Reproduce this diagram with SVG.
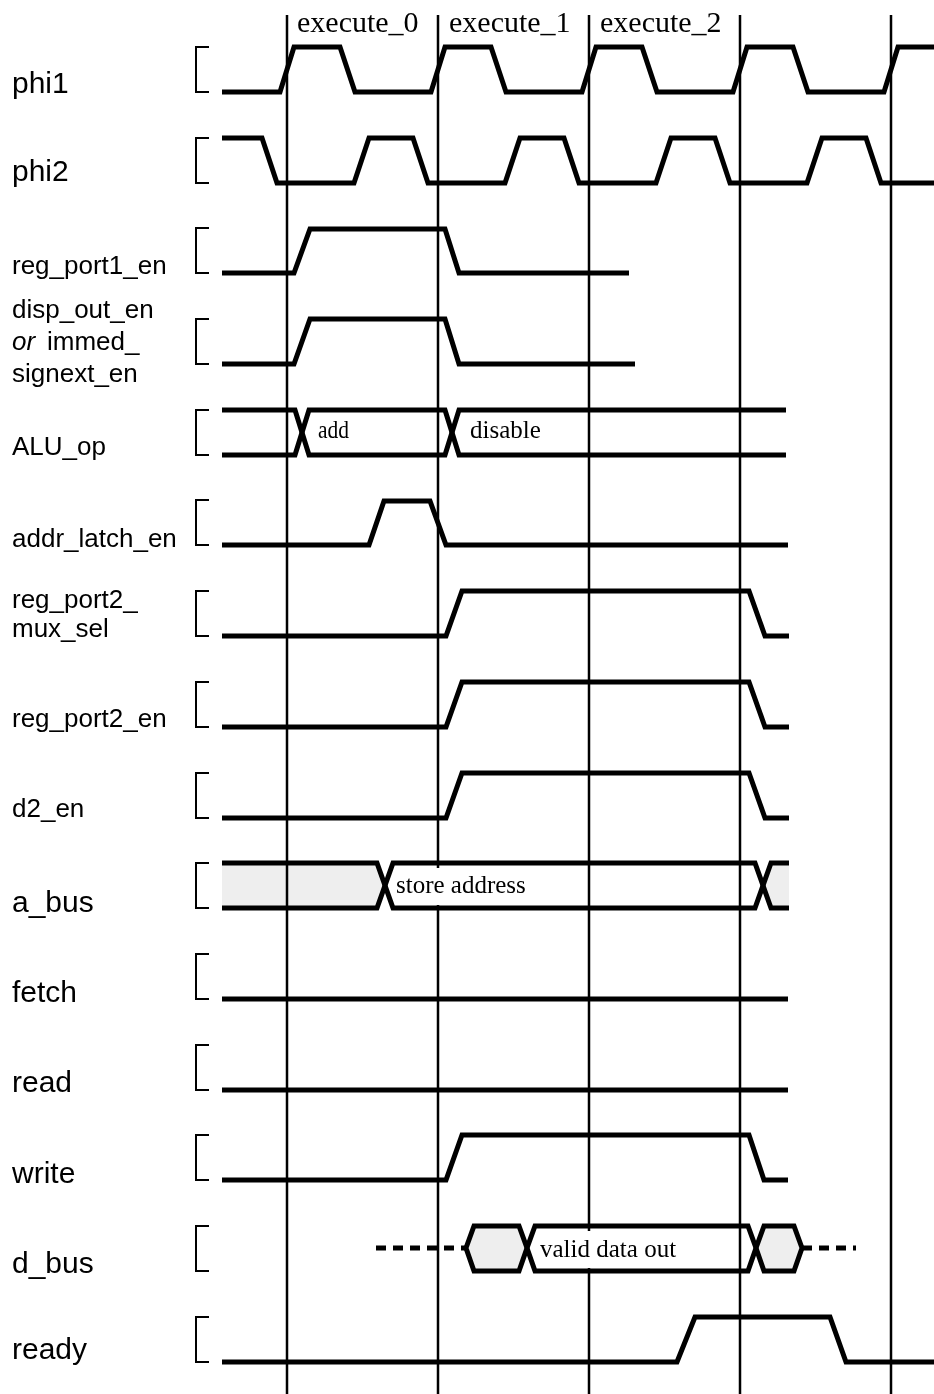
<svg xmlns="http://www.w3.org/2000/svg" width="934" height="1394" viewBox="0 0 934 1394">
<style>
.wave{fill:none;stroke:#000;stroke-width:5;stroke-linejoin:miter}
.brk{fill:none;stroke:#000;stroke-width:2}
.grid{stroke:#000;stroke-width:2.5}
.lbl{font-family:"Liberation Sans",Arial,sans-serif;font-size:26px;fill:#000}
.big{font-size:30px}
.ser{font-family:"Liberation Serif","Times New Roman",serif;font-size:25px;fill:#000}
.exe{font-size:30px}
.gray{fill:#eeeeee;stroke:none;mix-blend-mode:multiply}
.box{fill:none;stroke:#000;stroke-width:5}
.gbox{fill:#eeeeee;stroke:#000;stroke-width:5;mix-blend-mode:multiply}
.dots{fill:none;stroke:#000;stroke-width:5;stroke-dasharray:10 7}
.tbg{fill:#fff;stroke:none}
</style>
<rect width="934" height="1394" fill="#fff"/>

<g id="connectors">
<line class="grid" x1="287" y1="15" x2="287" y2="1394"/>
<line class="grid" x1="438" y1="15" x2="438" y2="1394"/>
<line class="grid" x1="589" y1="15" x2="589" y2="1394"/>
<line class="grid" x1="740" y1="15" x2="740" y2="1394"/>
<line class="grid" x1="891" y1="15" x2="891" y2="1394"/>
</g>

<g id="phase-labels">
<text class="ser exe" x="297" y="32">execute_0</text>
<text class="ser exe" x="449" y="32">execute_1</text>
<text class="ser exe" x="600" y="32">execute_2</text>
</g>

<g id="phi1">
<text class="lbl big" x="12" y="93">phi1</text>
<path class="brk" d="M209,47 H196 V92 H209"/>
<path class="wave" d="M222,92 H280 L294,47 H340 L355,92 H431 L445,47 H491 L506,92 H582 L596,47 H642 L657,92 H733 L747,47 H793 L808,92 H884 L898,47 H934"/>
</g>

<g id="phi2">
<text class="lbl big" x="12" y="181">phi2</text>
<path class="brk" d="M209,138 H196 V183 H209"/>
<path class="wave" d="M222,138 H262 L277,183 H354 L369,138 H413 L428,183 H505 L520,138 H564 L579,183 H656 L671,138 H715 L730,183 H807 L822,138 H866 L881,183 H934"/>
</g>

<g id="reg_port1_en">
<text class="lbl" x="12" y="274">reg_port1_en</text>
<path class="brk" d="M209,228 H196 V273 H209"/>
<path class="wave" d="M222,273 H294 L310,229 H445 L459,273 H629"/>
</g>

<g id="disp_out_en">
<text class="lbl" x="12" y="318">disp_out_en</text>
<text class="lbl" x="12" y="350"><tspan font-style="italic">or</tspan><tspan x="47">immed_</tspan></text>
<text class="lbl" x="12" y="382">signext_en</text>
<path class="brk" d="M209,319 H196 V364 H209"/>
<path class="wave" d="M222,364 H294 L310,319 H445 L459,364 H635"/>
</g>

<g id="ALU_op">
<text class="lbl" x="12" y="455">ALU_op</text>
<path class="brk" d="M209,410 H196 V455 H209"/>
<path class="wave" d="M222,410 H295 L309,455 H445 L459,410 H786"/>
<path class="wave" d="M222,455 H295 L309,410 H445 L459,455 H786"/>
<text class="ser" x="318" y="438" textLength="31" lengthAdjust="spacingAndGlyphs">add</text>
<text class="ser" x="470" y="438">disable</text>
</g>

<g id="addr_latch_en">
<text class="lbl" x="12" y="547">addr_latch_en</text>
<path class="brk" d="M209,500 H196 V545 H209"/>
<path class="wave" d="M222,545 H369 L384,501 H430 L446,545 H788"/>
</g>

<g id="reg_port2_mux_sel">
<text class="lbl" x="12" y="608">reg_port2_</text>
<text class="lbl" x="12" y="637">mux_sel</text>
<path class="brk" d="M209,591 H196 V636 H209"/>
<path class="wave" d="M222,636 H446 L462,591 H749 L765,636 H789"/>
</g>

<g id="reg_port2_en">
<text class="lbl" x="12" y="727">reg_port2_en</text>
<path class="brk" d="M209,682 H196 V727 H209"/>
<path class="wave" d="M222,727 H446 L462,682 H749 L765,727 H789"/>
</g>

<g id="d2_en">
<text class="lbl" x="12" y="817">d2_en</text>
<path class="brk" d="M209,773 H196 V818 H209"/>
<path class="wave" d="M222,818 H446 L462,773 H749 L765,818 H789"/>
</g>

<g id="a_bus">
<text class="lbl big" x="12" y="912">a_bus</text>
<path class="brk" d="M209,863 H196 V908 H209"/>
<polygon class="gray" points="222,863 377,863 385,885.5 377,908 222,908"/>
<polygon class="gray" points="789,863 771,863 763,885.5 771,908 789,908"/>
<path class="wave" d="M222,863 H377 L393,908 H755 L771,863 H789"/>
<path class="wave" d="M222,908 H377 L393,863 H755 L771,908 H789"/>
<rect class="tbg" x="395" y="868" width="132" height="37"/>
<text class="ser" x="396" y="893">store address</text>
</g>

<g id="fetch">
<text class="lbl big" x="12" y="1002">fetch</text>
<path class="brk" d="M209,954 H196 V999 H209"/>
<path class="wave" d="M222,999 H788"/>
</g>

<g id="read">
<text class="lbl big" x="12" y="1092">read</text>
<path class="brk" d="M209,1045 H196 V1090 H209"/>
<path class="wave" d="M222,1090 H788"/>
</g>

<g id="write">
<text class="lbl big" x="12" y="1183">write</text>
<path class="brk" d="M209,1135 H196 V1180 H209"/>
<path class="wave" d="M222,1180 H446 L462,1135 H749 L764,1180 H788"/>
</g>

<g id="d_bus">
<text class="lbl big" x="12" y="1273">d_bus</text>
<path class="brk" d="M209,1226 H196 V1271 H209"/>
<path class="dots" d="M376,1248 H466"/>
<path class="dots" d="M802,1248 H856"/>
<polygon class="gbox" points="466,1248 474,1226 519,1226 527,1248 519,1271 474,1271"/>
<polygon class="box" points="527,1248 535,1226 748,1226 756,1248 748,1271 535,1271"/>
<polygon class="gbox" points="756,1248 764,1226 794,1226 802,1248 794,1271 764,1271"/>
<rect class="tbg" x="539" y="1231" width="140" height="37"/>
<text class="ser" x="540" y="1257">valid data out</text>
</g>

<g id="ready">
<text class="lbl big" x="12" y="1359">ready</text>
<path class="brk" d="M209,1317 H196 V1362 H209"/>
<path class="wave" d="M222,1362 H677 L695,1317 H830 L846,1362 H934"/>
</g>
</svg>
